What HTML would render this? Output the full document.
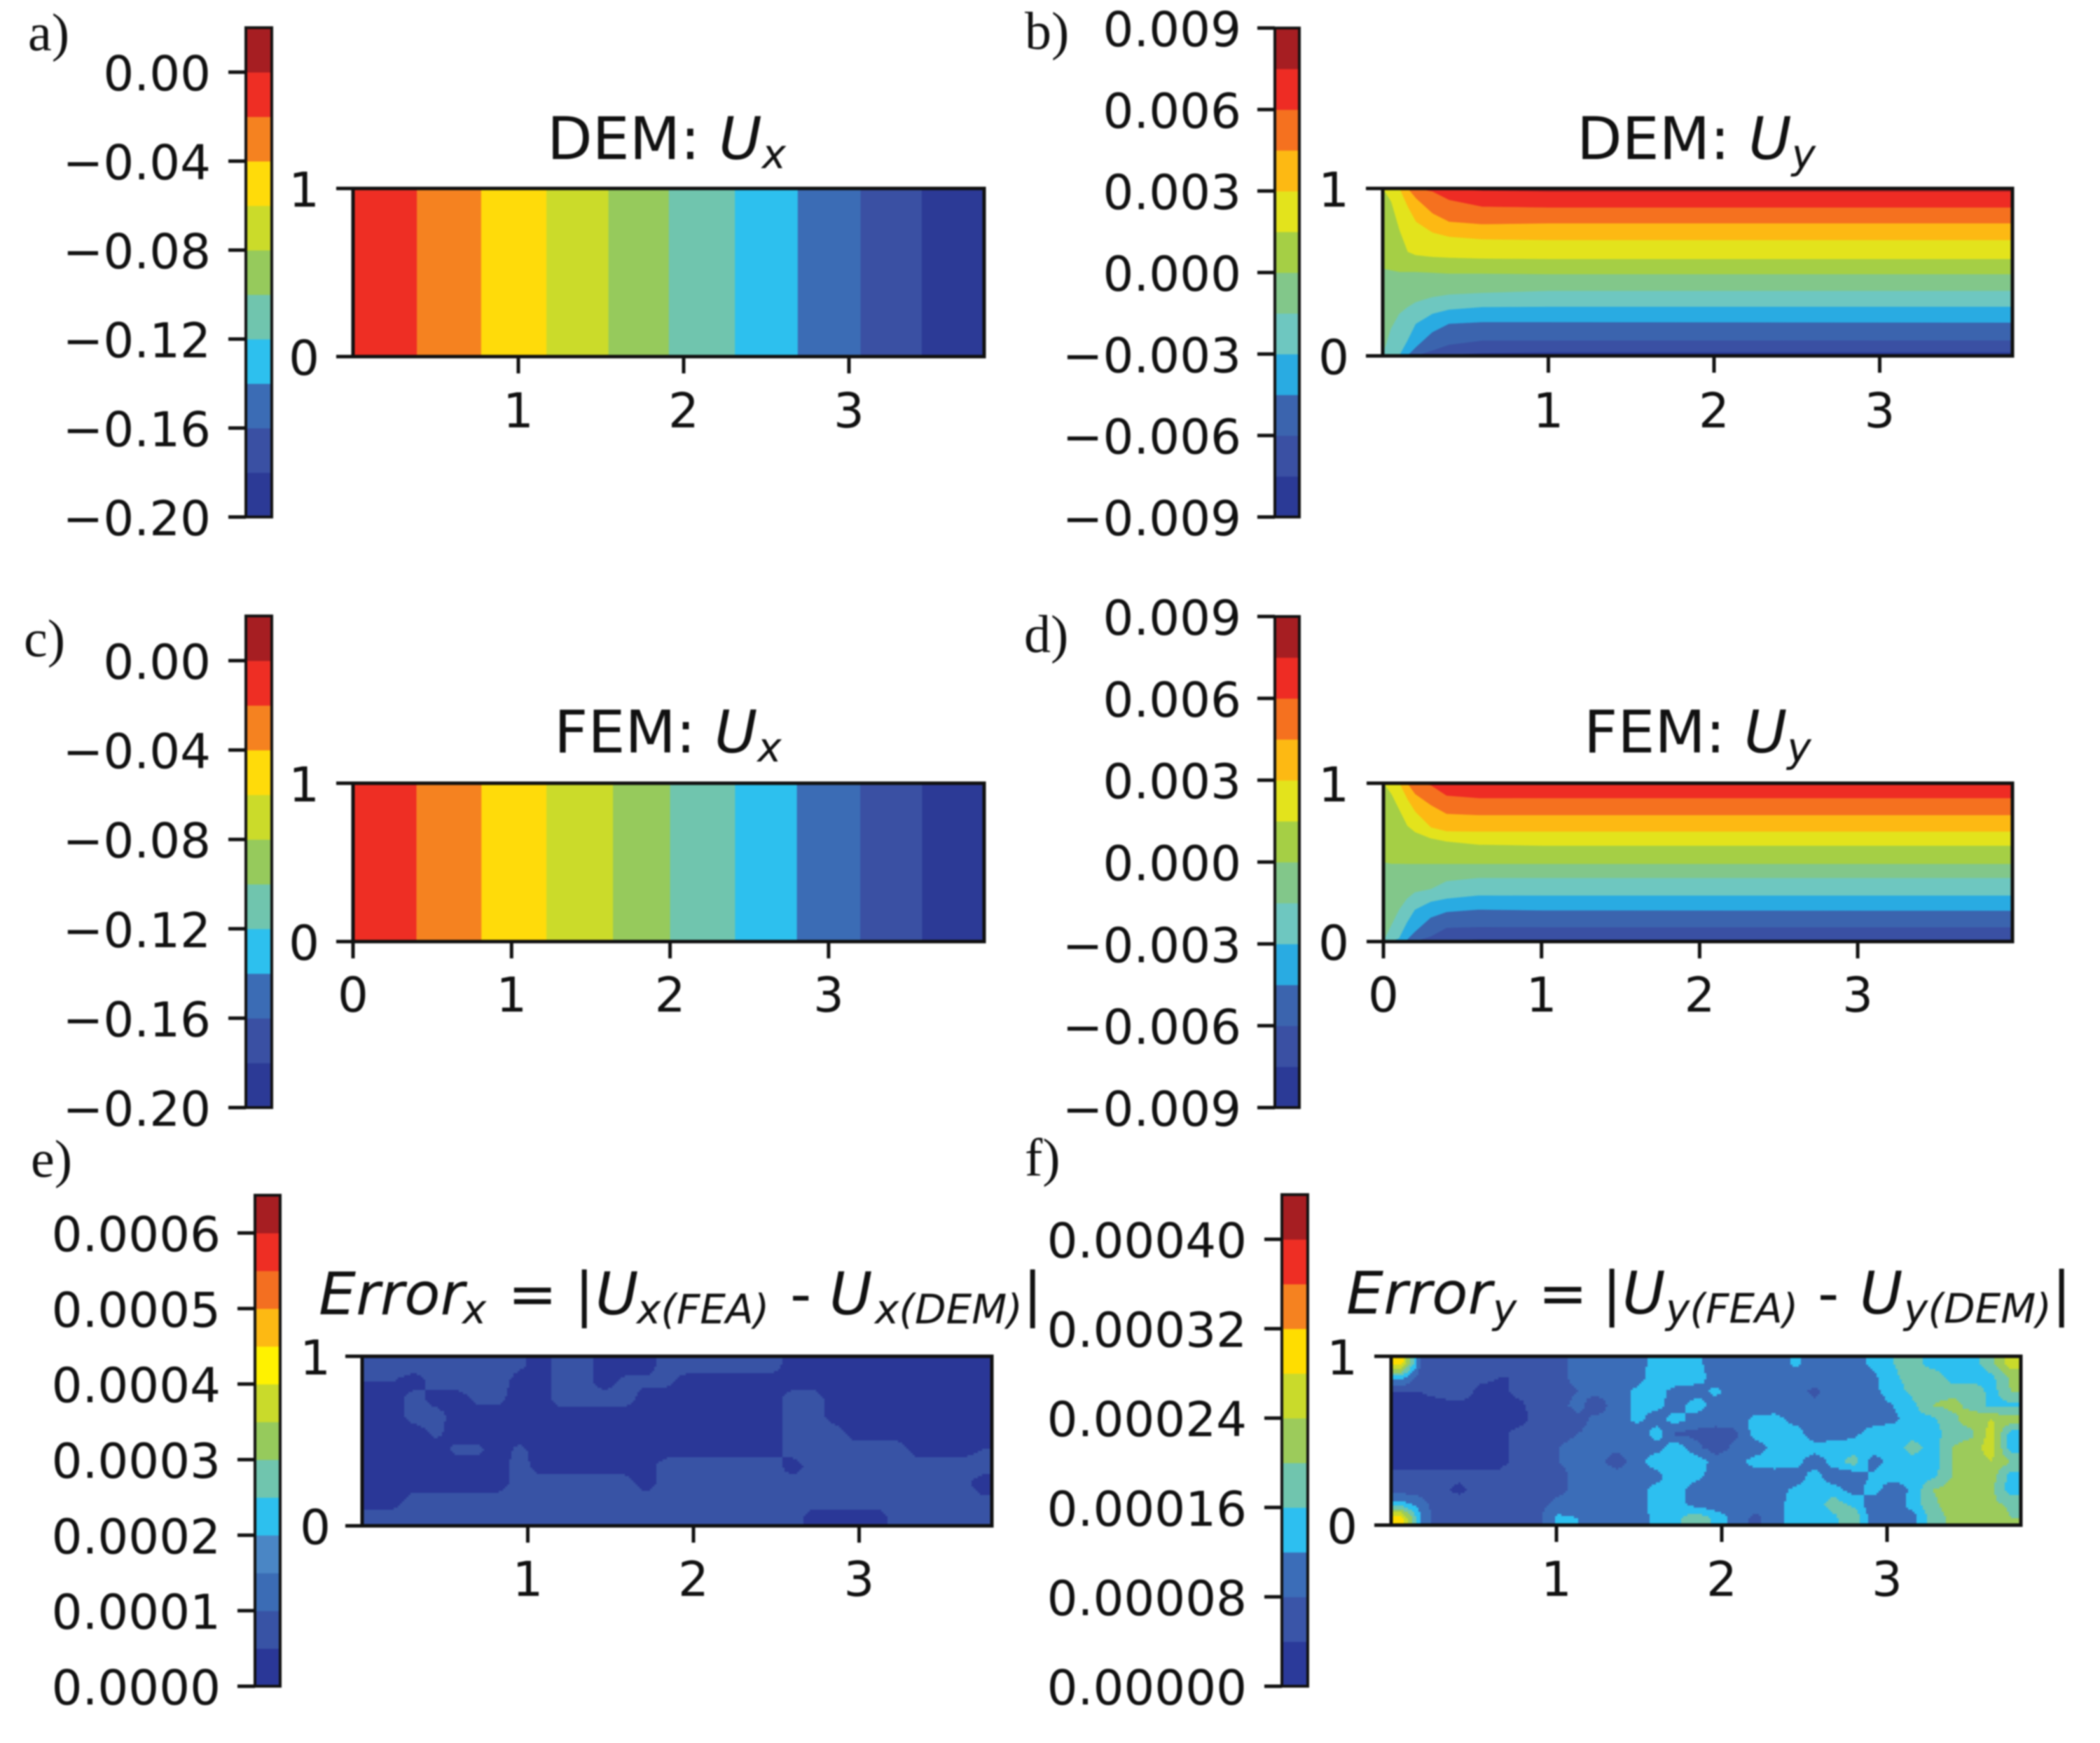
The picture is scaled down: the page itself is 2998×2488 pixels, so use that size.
<!DOCTYPE html>
<html lang="en">
<head>
<meta charset="utf-8">
<title>DEM vs FEM displacement fields and errors</title>
<style>
  html,body{margin:0;padding:0;background:#fff;}
  svg{display:block;filter:blur(1px);}
  text{font-family:"DejaVu Sans","Liberation Sans",sans-serif;fill:#111;}
  .tick{font-size:69px;}
  .title{font-size:84px;}
  .it{font-style:italic;}
  .sub{font-size:58px;font-style:italic;}
  .plabel{font-family:"Liberation Serif",serif;font-size:76px;}
</style>
</head>
<body>
<svg id="figure" width="2998" height="2488" viewBox="0 0 2998 2488" xmlns="http://www.w3.org/2000/svg">
  <rect width="2998" height="2488" fill="#fff"/>

  <g id="panel-a"></g>
  <g id="panel-b"></g>
  <g id="panel-c"></g>
  <g id="panel-d"></g>
  <g id="panel-e"></g>
  <g id="panel-f"></g>

  <text class="plabel" x="40" y="72">a)</text>
  <text class="plabel" x="1463" y="70">b)</text>
  <text class="plabel" x="34" y="937">c)</text>
  <text class="plabel" x="1462" y="931">d)</text>
  <text class="plabel" x="44" y="1680">e)</text>
  <text class="plabel" x="1463" y="1678">f)</text>

  <text class="title" x="781" y="227">DEM: <tspan class="it">U</tspan><tspan class="sub" dy="13">x</tspan></text>
  <text class="title" x="2251" y="227">DEM: <tspan class="it">U</tspan><tspan class="sub" dy="13">y</tspan></text>
  <text class="title" x="791" y="1074">FEM: <tspan class="it">U</tspan><tspan class="sub" dy="13">x</tspan></text>
  <text class="title" x="2261" y="1074">FEM: <tspan class="it">U</tspan><tspan class="sub" dy="13">y</tspan></text>

  <g>
    <text class="title it" x="455" y="1876">Error</text><text class="sub" x="660" y="1889">x</text>
    <text class="title" x="725" y="1876">=</text><text class="title" x="820" y="1876">|</text>
    <text class="title it" x="850" y="1876">U</text><text class="sub" x="909" y="1889">x(FEA)</text>
    <text class="title" x="1128" y="1876">-</text>
    <text class="title it" x="1184" y="1876">U</text><text class="sub" x="1249" y="1889">x(DEM)</text>
    <text class="title" x="1460" y="1876">|</text>
  </g>
  <g>
    <text class="title it" x="1922" y="1875">Error</text><text class="sub" x="2131" y="1888">y</text>
    <text class="title" x="2196" y="1875">=</text><text class="title" x="2287" y="1875">|</text>
    <text class="title it" x="2316" y="1875">U</text><text class="sub" x="2378" y="1888">y(FEA)</text>
    <text class="title" x="2595" y="1875">-</text>
    <text class="title it" x="2655" y="1875">U</text><text class="sub" x="2718" y="1888">y(DEM)</text>
    <text class="title" x="2929" y="1875">|</text>
  </g>
</svg>

<script>
/* ---------- shared axis ticks ---------- */
const yTicksPlot = [0, 1];
const xTicksTop = [1, 2, 3];
const xTicksMid = [0, 1, 2, 3];

/* ---------- panels a / c : Ux contour levels and band edges ---------- */
const uxLevels = [-0.20, -0.18, -0.16, -0.14, -0.12, -0.10, -0.08, -0.06, -0.04, -0.02, 0.00, 0.02];
const uxTicks = [0.00, -0.04, -0.08, -0.12, -0.16, -0.20];
const uxTickLabels = ['0.00', '\u22120.04', '\u22120.08', '\u22120.12', '\u22120.16', '\u22120.20'];
const aBandEdges = [0, 0.386, 0.775, 1.17, 1.545, 1.91, 2.31, 2.69, 3.07, 3.44, 3.81];
const cBandEdges = [0, 0.40, 0.81, 1.22, 1.64, 2.00, 2.41, 2.80, 3.20, 3.59, 3.98];

/* ---------- panels b / d : Uy contour levels and contour heights ---------- */
const uyLevels = [-0.009, -0.0075, -0.006, -0.0045, -0.003, -0.0015, 0, 0.0015, 0.003, 0.0045, 0.006, 0.0075, 0.009];
const uyTicks = [0.009, 0.006, 0.003, 0, -0.003, -0.006, -0.009];
const uyTickLabels = ['0.009', '0.006', '0.003', '0.000', '\u22120.003', '\u22120.006', '\u22120.009'];
const bContourX = [0, 0.05, 0.1, 0.15, 0.2, 0.3, 0.4, 0.6, 1, 3.81];
const dContourX = [0, 0.05, 0.1, 0.15, 0.2, 0.3, 0.4, 0.6, 1, 3.98];
const bContours = [
  [1, 1, 1, 1, 1, 1, 0.995, 0.985, 0.98, 0.98],
  [1, 1, 1, 1, 1, 0.98, 0.93, 0.89, 0.885, 0.885],
  [1, 1, 1, 1, 0.94, 0.85, 0.80, 0.785, 0.79, 0.79],
  [1, 1, 1, 0.89, 0.80, 0.735, 0.71, 0.695, 0.69, 0.69],
  [1, 0.92, 0.75, 0.62, 0.6, 0.59, 0.585, 0.58, 0.577, 0.577],
  [0.52, 0.51, 0.5, 0.5, 0.5, 0.495, 0.49, 0.49, 0.486, 0.486],
  [0, 0.16, 0.25, 0.29, 0.32, 0.35, 0.365, 0.375, 0.387, 0.387],
  [0, 0, 0, 0.09, 0.19, 0.25, 0.275, 0.29, 0.292, 0.292],
  [0, 0, 0, 0, 0.05, 0.14, 0.19, 0.2, 0.2, 0.197],
  [0, 0, 0, 0, 0, 0.03, 0.065, 0.09, 0.09, 0.091],
  [0, 0, 0, 0, 0, 0, 0.005, 0.015, 0.02, 0.02]
];
const dContours = [
  [1, 1, 1, 1, 1, 1, 1, 0.995, 0.99, 0.99],
  [1, 1, 1, 1, 1, 0.985, 0.92, 0.905, 0.904, 0.904],
  [1, 1, 1, 1, 0.93, 0.86, 0.805, 0.797, 0.797, 0.797],
  [1, 1, 1, 0.9, 0.82, 0.72, 0.695, 0.693, 0.693, 0.693],
  [1, 0.93, 0.83, 0.73, 0.69, 0.65, 0.63, 0.61, 0.604, 0.604],
  [0.5, 0.49, 0.49, 0.489, 0.489, 0.489, 0.489, 0.489, 0.489, 0.489],
  [0, 0.1, 0.2, 0.27, 0.31, 0.33, 0.38, 0.4, 0.4, 0.4],
  [0, 0, 0.02, 0.12, 0.2, 0.25, 0.27, 0.29, 0.289, 0.289],
  [0, 0, 0, 0.01, 0.06, 0.15, 0.185, 0.2, 0.195, 0.193],
  [0, 0, 0, 0, 0, 0.03, 0.085, 0.09, 0.089, 0.089],
  [0, 0, 0, 0, 0, 0, 0.005, 0.012, 0.012, 0.012]
];

/* ---------- panel e : error-x levels and grid (values x 1e-5) ---------- */
const errXLevels = [0, 5, 10, 15, 20, 25, 30, 35, 40, 45, 50, 55, 60, 65];
const errXTicks = [60, 50, 40, 30, 20, 10, 0];
const errXTickLabels = ['0.0006', '0.0005', '0.0004', '0.0003', '0.0002', '0.0001', '0.0000'];
const errXGrid = [
  [7,7,7,7,7,7,7,6,3,7,7,3,3,3,7,7,7,7,7,7,3,3,3,3,3,3,3,3,3,5],
  [5,5,3,7,7,7,7,3,3,7,7,3,6,6,6,3,3,3,3,3,3,3,3,3,3,3,3,3,3,3],
  [3,3,7,3,3,6,6,3,3,7,7,7,7,3,3,3,3,3,3,3,7,7,3,3,3,3,3,3,3,3],
  [3,3,7,7,3,3,3,3,3,3,3,3,3,3,3,3,3,3,3,3,7,7,3,3,3,3,3,3,3,3],
  [3,3,3,6,3,3,3,3,3,3,3,3,3,3,3,3,3,3,3,3,7,7,7,3,3,3,3,3,3,3],
  [3,3,3,3,6,6,3,6,3,3,3,3,3,3,3,3,3,3,3,3,7,7,7,7,7,7,3,3,3,5],
  [3,3,3,3,3,3,3,7,3,3,3,3,3,3,7,7,7,7,7,7,3,7,7,7,7,7,7,7,7,7],
  [3,3,3,3,3,3,3,7,7,7,7,7,7,3,7,7,7,7,7,7,7,7,7,7,7,7,7,7,7,3],
  [3,3,7,7,7,7,7,7,7,7,7,7,7,7,7,7,7,7,7,7,7,7,7,7,7,7,7,7,7,6],
  [7,7,7,7,7,7,7,7,7,7,7,7,7,7,7,7,7,7,7,7,7,3,3,3,3,7,7,7,7,7]
];

/* ---------- panel f : error-y levels and grid (values x 1e-5) ---------- */
const errYLevels = [0, 4, 8, 12, 16, 20, 24, 28, 32, 36, 40, 44];
const errYTicks = [40, 32, 24, 16, 8, 0];
const errYTickLabels = ['0.00040', '0.00032', '0.00024', '0.00016', '0.00008', '0.00000'];
const errYGrid = [
  [30,8,6,6,5,5,5,6,7,9,10,10,10,14,14,13,10,10,9,9,13,10,10,10,13,16,18,14,14,14,19,26],
  [14,6,6,6,5,4,4,6,7,9,10,10,10,15,15,14,10,10,9,9,10,10,10,10,11,15,18,19,14,13,15,21],
  [4,4,5,6,3,3,5,6,7,8,9,10,13,14,10,10,13,10,9,8,10,7,10,10,11,14,17,19,19,20,14,20],
  [3,3,3,3,3,3,3,6,7,9,6,10,13,13,10,14,10,10,10,9,10,9,10,10,10,12,15,20,21,19,15,15],
  [3,3,3,3,3,3,3,5,6,7,9,10,13,10,14,10,10,10,13,14,10,10,9,10,10,11,14,15,19,22,24,22],
  [3,3,3,3,3,3,5,6,7,8,9,9,9,14,7,7,6,7,14,15,15,9,10,11,14,15,14,14,18,19,26,14],
  [3,3,3,3,3,3,5,6,8,9,9,9,10,10,15,9,6,9,9,14,15,14,14,14,14,13,18,14,20,22,26,14],
  [3,3,3,3,3,3,5,6,8,9,9,6,10,15,15,15,10,10,14,14,14,9,14,18,10,14,14,13,20,22,24,20],
  [5,5,5,5,5,5,6,6,7,9,10,10,9,10,16,14,9,8,9,10,9,14,9,9,13,14,14,15,20,24,22,14],
  [6,6,5,3,6,5,6,7,7,9,10,10,10,14,14,9,8,9,10,10,13,14,14,10,14,9,13,20,22,22,21,14],
  [14,10,5,6,6,5,6,7,9,10,9,10,10,14,14,10,9,9,10,10,14,14,18,15,9,9,14,19,22,22,21,19],
  [30,12,5,5,6,5,5,7,13,12,9,9,9,14,15,19,15,10,7,10,14,14,15,20,9,9,10,18,21,24,24,20]
];

/* ---------- palettes, lowest level band first ---------- */
const uxColors = ['#2c3a96','#3a50a3','#3b6cb5','#2dc0ee','#70c5ae','#96ca5c','#cbdb2a','#ffdb0a','#f58220','#ee2e24','#a61e22'];
const uyColors = ['#2b3a96','#3a50a3','#3b64ae','#29abe2','#6ec7c0','#82c78a','#a5cf45','#e3e31c','#fdb913','#f5711f','#ee2c24','#a61e22'];
const errXColors = ['#2a3797','#3853a5','#3b6cb5','#4a86c5','#2dc0ee','#70c5ae','#96ca5c','#c9da2b','#fff200','#fdb913','#f36f21','#ee2e24','#a61e22'];
const errYColors = ['#2b3a9a','#3a55a8','#3b6db8','#2dbff0','#70c5ae','#9ccb5b','#c9da2b','#ffdd00','#f58220','#ee2e24','#a61e22'];

/* ---------- drawing helpers ---------- */
const SVGNS = 'http://www.w3.org/2000/svg';
const INK = '#111';
function linear(d0, d1, r0, r1) {
  return function (v) { return r0 + (v - d0) * (r1 - r0) / (d1 - d0); };
}
function make(tag, parent, attrs) {
  const el = document.createElementNS(SVGNS, tag);
  for (const k in attrs) el.setAttribute(k, attrs[k]);
  parent.appendChild(el);
  return el;
}
function tickMark(parent, x1, y1, x2, y2) {
  const el = make('line', parent, {x1: x1, y1: y1, x2: x2, y2: y2, stroke: INK, 'stroke-width': 5});
  
  
  return el;
}
function tickText(parent, x, y, anchor, str) {
  const el = make('text', parent, {x: x, y: y, 'text-anchor': anchor, class: 'tick'});
  el.textContent = str;
  
  
  return el;
}
function drawColorbar(g, box, levels, colors, ticks, labels) {
  const cy = linear(box.d0, box.d1, box.r0, box.r1);
  for (let i = 0; i < colors.length; i++) {
    const yTop = cy(levels[i + 1]);
    const yBot = cy(levels[i]);
    const r = make('rect', g, {x: box.x0, y: yTop, width: box.x1 - box.x0, height: yBot - yTop + 0.5, fill: colors[i]});
    
    
  }
  const top = cy(levels[levels.length - 1]);
  const bottom = cy(levels[0]);
  const f = make('rect', g, {x: box.x0, y: top, width: box.x1 - box.x0, height: bottom - top, fill: 'none', stroke: INK, 'stroke-width': 4});
  
  
  ticks.forEach(function (t, i) {
    const y = cy(t);
    tickMark(g, box.x0 - 25, y, box.x0, y);
    tickText(g, box.label, y + 26, 'end', labels[i]);
  });
}
function drawFrame(g, p, xTicks, xLabelY) {
  const X = linear(0, 1, p.x0, p.x0 + p.unit);
  const Y = linear(0, 1, p.y0, p.y1);
  const f = make('rect', g, {x: p.x0, y: p.y1, width: p.xr - p.x0, height: p.y0 - p.y1, fill: 'none', stroke: INK, 'stroke-width': 5});
  
  
  yTicksPlot.forEach(function (t) {
    tickMark(g, p.x0 - 24, Y(t), p.x0, Y(t));
    tickText(g, p.yLabel, Y(t) + 26, 'end', String(t));
  });
  xTicks.forEach(function (t) {
    tickMark(g, X(t), p.y0, X(t), p.y0 + 24);
    tickText(g, X(t), xLabelY, 'middle', String(t));
  });
}
function drawBands(g, p, edges, colors) {
  const X = linear(0, 1, p.x0, p.x0 + p.unit);
  for (let i = 0; i < edges.length - 1; i++) {
    const r = make('rect', g, {x: X(edges[i]), y: p.y1, width: X(edges[i + 1]) - X(edges[i]) + 0.5, height: p.y0 - p.y1, fill: colors[colors.length - 2 - i]});
    
    
  }
}
function drawContours(g, p, xs, contours, colors) {
  const X = linear(0, 1, p.x0, p.x0 + p.unit);
  const Y = linear(0, 1, p.y0, p.y1);
  const flat = function (v) { return xs.map(function () { return v; }); };
  const n = colors.length;
  for (let i = 0; i < n; i++) {
    const upper = i === 0 ? flat(1) : contours[i - 1];
    const lower = i === n - 1 ? flat(0) : contours[i];
    const pts = [];
    xs.forEach(function (x, k) { pts.push(X(x).toFixed(1) + ',' + Y(upper[k]).toFixed(1)); });
    for (let k = xs.length - 1; k >= 0; k--) pts.push(X(xs[k]).toFixed(1) + ',' + Y(lower[k]).toFixed(1));
    const poly = make('polygon', g, {points: pts.join(' '), fill: colors[n - 1 - i], stroke: colors[n - 1 - i], 'stroke-width': 0.6});
    
    
  }
}
function colorFor(v, levels, colors) {
  for (let i = 0; i < colors.length; i++) if (v < levels[i + 1]) return colors[i];
  return colors[colors.length - 1];
}
function sampleGrid(grid, u, v) {
  const rows = grid.length, cols = grid[0].length;
  const fx = Math.min(Math.max(u * cols - 0.5, 0), cols - 1.001);
  const fy = Math.min(Math.max(v * rows - 0.5, 0), rows - 1.001);
  const i = Math.floor(fx), j = Math.floor(fy), a = fx - i, b = fy - j;
  return (grid[j][i] * (1 - a) + grid[j][i + 1] * a) * (1 - b) + (grid[j + 1][i] * (1 - a) + grid[j + 1][i + 1] * a) * b;
}
function drawGrid(g, p, grid, levels, colors) {
  const step = 3;
  const w = p.xr - p.x0, h = p.y0 - p.y1;
  const nx = Math.ceil(w / step);
  for (let py = 0; py < h; py += step) {
    let runStart = 0, runColor = null;
    for (let k = 0; k <= nx; k++) {
      const px = k * step;
      const c = k < nx ? colorFor(sampleGrid(grid, Math.min(px + step / 2, w) / w, (py + step / 2) / h), levels, colors) : null;
      if (c !== runColor) {
        if (runColor) {
          const r = make('rect', g, {x: p.x0 + runStart, y: p.y1 + py, width: Math.min(px, w) - runStart + 0.5, height: Math.min(step, h - py) + 0.5, fill: runColor});
          
          
        }
        runStart = px;
        runColor = c;
      }
    }
  }
}

/* ---------- panel layout (pixels) ---------- */
const L = {
  a: {x0: 504, xr: 1405, unit: 236,   y0: 509,  y1: 269,  yLabel: 456},
  b: {x0: 1974, xr: 2873, unit: 236.5, y0: 508,  y1: 269,  yLabel: 1926},
  c: {x0: 504, xr: 1405, unit: 226.3, y0: 1344, y1: 1118, yLabel: 456},
  d: {x0: 1975, xr: 2873, unit: 225.7, y0: 1344, y1: 1118, yLabel: 1926},
  e: {x0: 517, xr: 1416, unit: 236.5, y0: 2178, y1: 1936, yLabel: 472},
  f: {x0: 1986, xr: 2885, unit: 236,   y0: 2177, y1: 1936, yLabel: 1938}
};
const CB = {
  a: {x0: 351, x1: 388, d0: 0, d1: -0.2, r0: 103, r1: 738, label: 301},
  b: {x0: 1820, x1: 1855, d0: 0.009, d1: -0.009, r0: 40, r1: 738, label: 1772},
  c: {x0: 351, x1: 388, d0: 0, d1: -0.2, r0: 943, r1: 1581, label: 301},
  d: {x0: 1820, x1: 1855, d0: 0.009, d1: -0.009, r0: 880, r1: 1581, label: 1772},
  e: {x0: 364, x1: 400, d0: 0, d1: 60, r0: 2407, r1: 1760, label: 315},
  f: {x0: 1830, x1: 1867, d0: 0, d1: 40, r0: 2407, r1: 1769, label: 1780}
};
const gA = document.getElementById('panel-a');
const gB = document.getElementById('panel-b');
const gC = document.getElementById('panel-c');
const gD = document.getElementById('panel-d');
const gE = document.getElementById('panel-e');
const gF = document.getElementById('panel-f');

drawBands(gA, L.a, aBandEdges, uxColors);
drawFrame(gA, L.a, xTicksTop, 610);
drawColorbar(gA, CB.a, uxLevels, uxColors, uxTicks, uxTickLabels);

drawContours(gB, L.b, bContourX, bContours, uyColors);
drawFrame(gB, L.b, xTicksTop, 610);
drawColorbar(gB, CB.b, uyLevels, uyColors, uyTicks, uyTickLabels);

drawBands(gC, L.c, cBandEdges, uxColors);
drawFrame(gC, L.c, xTicksMid, 1444);
drawColorbar(gC, CB.c, uxLevels, uxColors, uxTicks, uxTickLabels);

drawContours(gD, L.d, dContourX, dContours, uyColors);
drawFrame(gD, L.d, xTicksMid, 1444);
drawColorbar(gD, CB.d, uyLevels, uyColors, uyTicks, uyTickLabels);

drawGrid(gE, L.e, errXGrid, errXLevels, errXColors);
drawFrame(gE, L.e, xTicksTop, 2278);
drawColorbar(gE, CB.e, errXLevels, errXColors, errXTicks, errXTickLabels);

drawGrid(gF, L.f, errYGrid, errYLevels, errYColors);
drawFrame(gF, L.f, xTicksTop, 2278);
drawColorbar(gF, CB.f, errYLevels, errYColors, errYTicks, errYTickLabels);
</script>
</body>
</html>
